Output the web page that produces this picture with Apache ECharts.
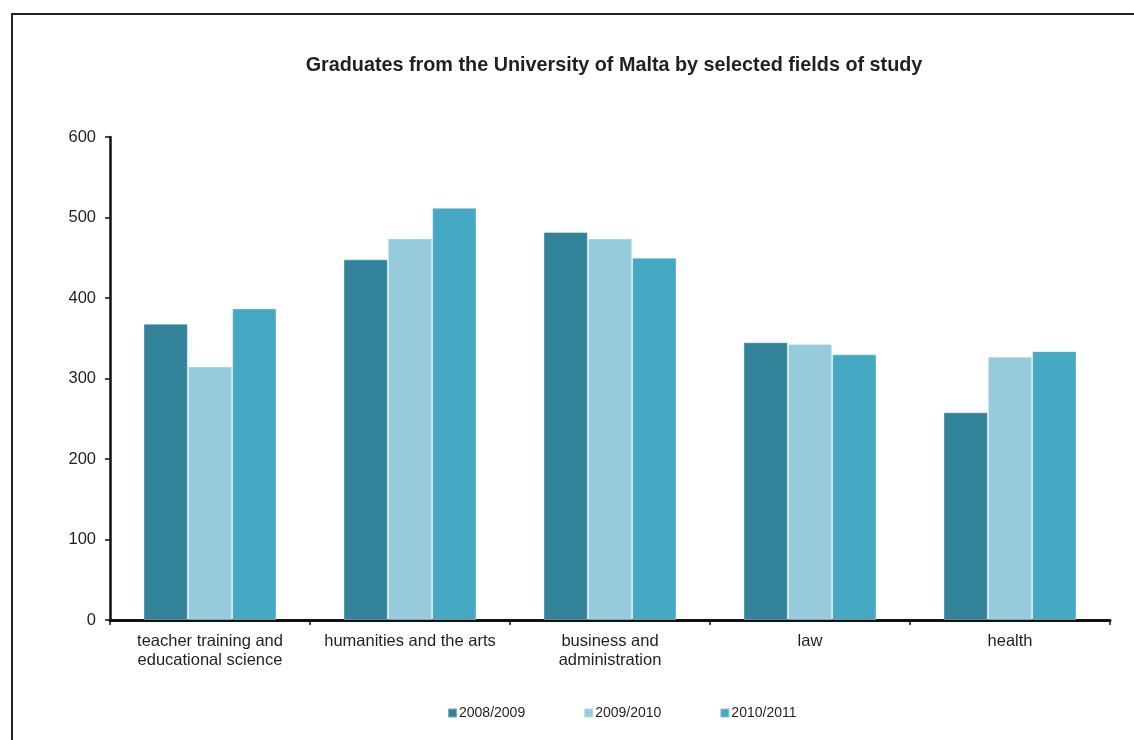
<!DOCTYPE html>
<html><head><meta charset="utf-8">
<script src="https://cdn.jsdelivr.net/npm/echarts@6/dist/echarts.min.js"></script>
<style>html,body{margin:0;padding:0;background:#fff}#c{width:1134px;height:740px}</style>
</head><body><div id="c"></div>
<script>
const categories = ['teacher training and\neducational science', 'humanities and the arts', 'business and\nadministration', 'law', 'health'];
const seriesNames = ['2008/2009', '2009/2010', '2010/2011'];
const v2008 = [368, 448, 482, 345, 258];
const v2009 = [315, 474, 474, 343, 327];
const v2010 = [387, 512, 450, 330, 334];
const yTicks = { min: 0, max: 600, interval: 100 };
const colors = ['#33849a', '#96cbdb', '#45a9c4'];

const chart = echarts.init(document.getElementById('c'), null, { renderer: 'canvas' });
const font = 'Liberation Sans, Arial, Helvetica, sans-serif';
const mk = (name, data, i) => ({
  name, type: 'bar', data, barGap: '0%', barCategoryGap: '33.5%',
  itemStyle: { color: colors[i], borderColor: 'rgba(255,255,255,0.35)', borderWidth: 1 },
  emphasis: { disabled: true }
});
chart.setOption({
  animation: false,
  textStyle: { fontFamily: font },
  title: {
    text: 'Graduates from the University of Malta by selected fields of study',
    left: 609, top: 51, textAlign: 'center',
    textStyle: { fontFamily: font, fontSize: 19.8, fontWeight: 'bold', color: '#231f20' }
  },
  graphic: [
    { type: 'polyline', shape: { points: [[12, 740], [12, 14], [1134, 14]] }, style: { stroke: '#222', lineWidth: 2, fill: null } }
  ],
  legend: {
    data: seriesNames, top: 701, left: 442, itemWidth: 9, itemHeight: 9, itemGap: 58,
    icon: 'rect',
    textStyle: { fontFamily: font, fontSize: 14, color: '#231f20', padding: [0, 0, 0, -3] }
  },
  grid: { left: 110, right: 24, top: 137, bottom: 120, containLabel: false },
  xAxis: {
    type: 'category', data: categories,
    axisLine: { lineStyle: { color: '#111', width: 3 } },
    axisTick: { show: true, length: 5, lineStyle: { color: '#111', width: 1.5 } },
    axisLabel: { fontFamily: font, fontSize: 16.5, color: '#231f20', margin: 12, lineHeight: 19, interval: 0 }
  },
  yAxis: {
    type: 'value', min: yTicks.min, max: yTicks.max, interval: yTicks.interval,
    axisLine: { show: true, lineStyle: { color: '#111', width: 2.5 } },
    axisTick: { show: true, length: 5, lineStyle: { color: '#111', width: 1.5 } },
    splitLine: { show: false },
    axisLabel: { fontFamily: font, fontSize: 16.5, color: '#231f20', margin: 14 }
  },
  series: [mk(seriesNames[0], v2008, 0), mk(seriesNames[1], v2009, 1), mk(seriesNames[2], v2010, 2)]
});
</script></body></html>
